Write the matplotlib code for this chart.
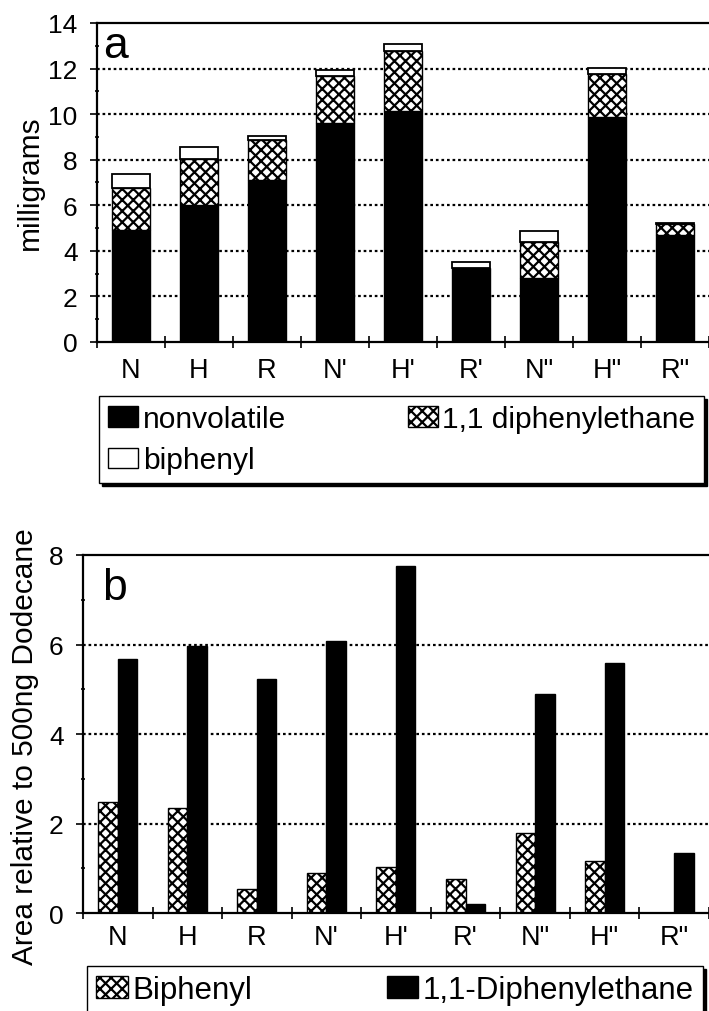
import numpy as np
import matplotlib
matplotlib.use("Agg")
import matplotlib.pyplot as plt
from matplotlib.patches import Patch

plt.rcParams["font.family"] = ["Liberation Sans", "DejaVu Sans"]
plt.rcParams["hatch.linewidth"] = 1.6

# data
samples = ["N", "H", "R", "N'", "H'", "R'", 'N"', 'H"', 'R"']

# panel a: stacked milligrams
nonvolatile = [4.9, 6.0, 7.1, 9.6, 10.13, 3.25, 2.8, 9.88, 4.7]
diphenylethane_mg = [1.85, 2.02, 1.77, 2.09, 2.65, 0.0, 1.6, 1.88, 0.48]
biphenyl_mg = [0.63, 0.55, 0.16, 0.26, 0.28, 0.25, 0.45, 0.28, 0.04]

# panel b: area relative to 500ng dodecane
biphenyl_area = [2.48, 2.35, 0.54, 0.89, 1.03, 0.75, 1.78, 1.17, 0.0]
diphenylethane_area = [5.67, 5.96, 5.23, 6.08, 7.76, 0.2, 4.9, 5.59, 1.34]

HATCH = "xxx"
GRID_STYLE = dict(color="black", linestyle=(0, (1.2, 1.3)), linewidth=1.6)

fig = plt.figure(figsize=(7.09, 10.12), dpi=100)
x = np.arange(len(samples))


def style_axes(ax, ymax, ystep, xpad):
    ax.set_xlim(-0.5, len(samples) - 0.5)
    ax.set_ylim(0, ymax)
    ax.set_yticks(np.arange(0, ymax + 0.1, ystep))
    ax.set_yticks(np.arange(ystep / 2, ymax, ystep), minor=True)
    ax.set_xticks(x)
    ax.set_xticklabels(samples)
    ax.set_xticks(np.arange(-0.5, len(samples), 1.0), minor=True)
    ax.tick_params(axis="x", which="major", length=0, pad=xpad, labelsize=19.5)
    ax.tick_params(axis="x", which="minor", direction="inout", length=8, width=1.2)
    ax.tick_params(axis="y", which="major", direction="out", length=5, width=1.2,
                   pad=9, labelsize=19)
    ax.tick_params(axis="y", which="minor", direction="inout", length=3, width=1.2)
    ax.spines["right"].set_visible(False)
    for s in ["left", "bottom", "top"]:
        ax.spines[s].set_linewidth(1.6)
    for yv in np.arange(ystep, ymax, ystep):
        ax.axhline(yv, zorder=0, **GRID_STYLE)
    ax.set_axisbelow(True)


# ---- panel a ----
ax1 = fig.add_axes([0.1368, 0.6611, 0.8632, 0.3152])
w = 0.55
ax1.bar(x, nonvolatile, w, color="black", edgecolor="black", linewidth=1, zorder=2)
ax1.bar(x, diphenylethane_mg, w, bottom=nonvolatile, color="white",
        edgecolor="black", hatch=HATCH, linewidth=1, zorder=2)
bottom2 = np.array(nonvolatile) + np.array(diphenylethane_mg)
ax1.bar(x, biphenyl_mg, w, bottom=bottom2, color="white", edgecolor="black",
        linewidth=1.3, zorder=2)
style_axes(ax1, 14, 2, 11)
ax1.text(0.01, 0.893, "a", transform=ax1.transAxes, fontsize=32, va="baseline")
fig.text(0.042, 0.819, "milligrams", rotation=90, fontsize=21.5,
         ha="center", va="center")

handles_a = [Patch(facecolor="black", edgecolor="black", label="nonvolatile"),
             Patch(facecolor="white", edgecolor="black", label="biphenyl"),
             Patch(facecolor="white", edgecolor="black", hatch=HATCH,
                   label="1,1 diphenylethane")]
fig.legend(handles=handles_a, ncol=2, mode="expand", loc="upper left",
           bbox_to_anchor=(0.1403, 0.5207, 0.8533, 0.087),
           fontsize=21.5, frameon=True, fancybox=False, shadow={"color": "black", "alpha": 1},
           edgecolor="black", framealpha=1, borderpad=0.3, handlelength=1.0,
           handleheight=0.7, handletextpad=0.15, labelspacing=0.45, borderaxespad=0)

# ---- panel b ----
ax2 = fig.add_axes([0.117, 0.0968, 0.883, 0.3538])
bw = 0.28
ax2.bar(x - bw / 2, biphenyl_area, bw, color="white", edgecolor="black",
        hatch=HATCH, linewidth=1, zorder=2)
ax2.bar(x + bw / 2, diphenylethane_area, bw, color="black", edgecolor="black",
        linewidth=1, zorder=2)
style_axes(ax2, 8, 2, 8)
ax2.text(0.03, 0.877, "b", transform=ax2.transAxes, fontsize=32, va="baseline")
fig.text(0.035, 0.262, "Area relative to 500ng Dodecane", rotation=90,
         fontsize=21.5, ha="center", va="center")

handles_b = [Patch(facecolor="white", edgecolor="black", hatch=HATCH, label="Biphenyl"),
             Patch(facecolor="black", edgecolor="black", label="1,1-Diphenylethane")]
fig.legend(handles=handles_b, ncol=2, mode="expand", loc="upper left",
           bbox_to_anchor=(0.1227, 0.0445, 0.869, 0.0),
           fontsize=22.5, frameon=True, fancybox=False, shadow={"color": "black", "alpha": 1},
           edgecolor="black", framealpha=1, borderpad=0.3, handlelength=1.0,
           handleheight=0.7, handletextpad=0.15, borderaxespad=0)

fig.savefig("out.png", dpi=100)
